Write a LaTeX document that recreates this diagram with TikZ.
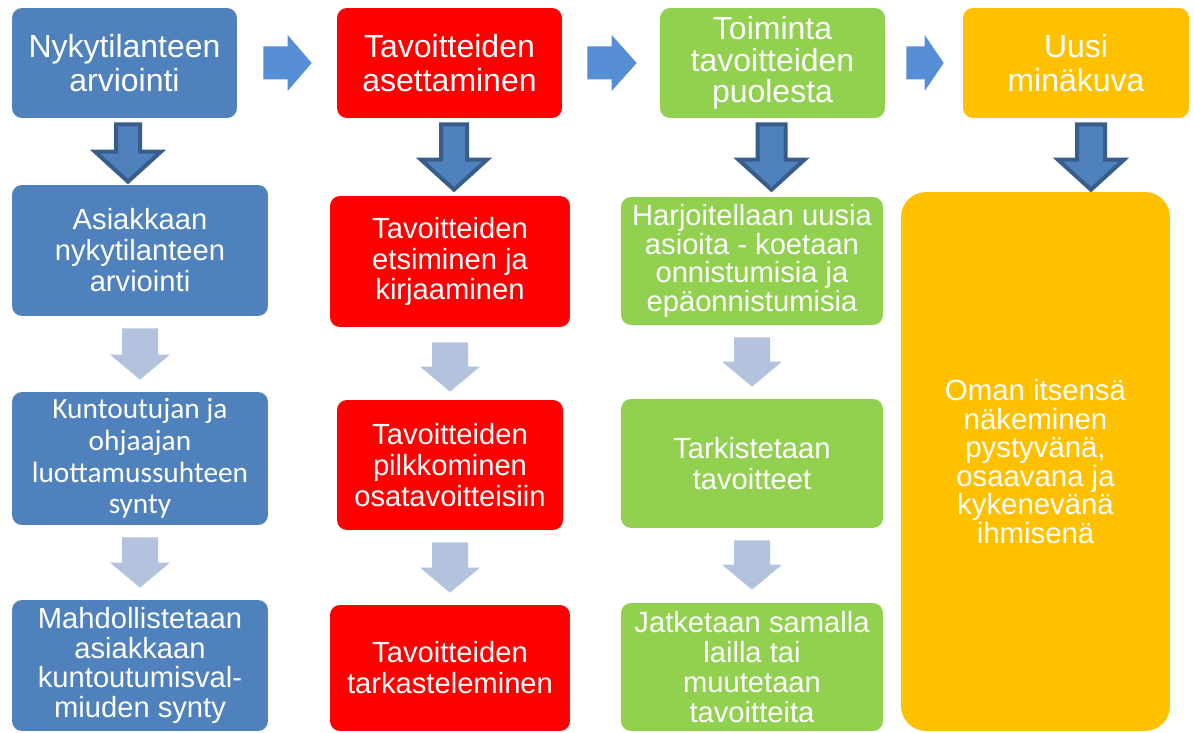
\documentclass[tikz,border=0pt]{standalone}
\usepackage{fontspec}
\setmainfont{Liberation Sans}
\newfontfamily\calibrifont{Carlito}
\usetikzlibrary{calc}
\definecolor{boxblue}{HTML}{4F81BD}
\definecolor{boxred}{HTML}{FF0000}
\definecolor{boxgreen}{HTML}{92D050}
\definecolor{boxorange}{HTML}{FFC000}
\definecolor{arrowblue}{HTML}{558ED5}
\definecolor{arrowedge}{HTML}{385D8A}
\definecolor{arrowpale}{HTML}{B3C3DE}

\newcommand{\fsTop}{\fontsize{18.2}{19}\selectfont}
\newcommand{\fsBox}{\fontsize{16.6}{17.6}\selectfont}
\newcommand{\fsSmall}{\fontsize{16.6}{17}\selectfont}
\newcommand{\fsCal}{\calibrifont\fontsize{16.7}{18.1}\selectfont}
\newcommand{\fsBig}{\fontsize{16.7}{16.2}\selectfont}

% down arrow: style, x, upper node, lower node, top gap, tip gap, shaft half, head half, head length
\newcommand{\nedpil}[9]{%
  \coordinate (pa) at ($(#3.south -| #2,0)+(0,#5)$);
  \coordinate (pb) at ($(#4.north -| #2,0)+(0,-#6)$);
  \path[#1] ($(pa)+(-#7,0)$) -- ($(pa)+(#7,0)$) -- ($(pb)+(#7,-#9)$) -- ($(pb)+(#8,-#9)$)
    -- (pb) -- ($(pb)+(-#8,-#9)$) -- ($(pb)+(-#7,-#9)$) -- cycle;}
% right arrow: style, left node, right node, left gap, right gap, head length
\newcommand{\hpil}[6]{%
  \coordinate (pa) at ($(#2.east)+(#4,0)$);
  \coordinate (pb) at ($(#3.west)+(-#5,0)$);
  \path[#1] ($(pa)+(0,-16.5)$) -- ($(pb)+(-#6,-16.5)$) -- ($(pb)+(-#6,-28)$) -- (pb)
    -- ($(pb)+(-#6,28)$) -- ($(pb)+(-#6,16.5)$) -- ($(pa)+(0,16.5)$) -- cycle;}

\tikzset{
  flowbox/.style={rounded corners=0.2cm, inner sep=0pt, align=center, text=white, font=\fsBox},
  topbox/.style={flowbox, minimum width=4.5cm, minimum height=2.2cm, font=\fsTop},
  fatarrow/.style={fill=boxblue, draw=arrowedge, line width=0.08cm},
  palearrow/.style={fill=arrowpale},
  sidearrow/.style={fill=arrowblue}
}

\begin{document}
\begin{tikzpicture}[x=0.02cm,y=-0.02cm]
    \useasboundingbox (0,0) rectangle (1194,733);
    %Nykytilanne
    \node[topbox, fill=boxblue] (nyky) at (124.5,63) {Nykytilanteen\\arviointi};
    \node[flowbox, fill=boxblue, minimum width=5.12cm, minimum height=2.62cm] (asiakas) at (140,250.5) {Asiakkaan\\nykytilanteen\\arviointi};
    \node[flowbox, fill=boxblue, minimum width=5.12cm, minimum height=2.66cm, font=\fsCal] (luottamus) at (140,458.5) {Kuntoutujan ja\\ohjaajan\\luottamussuhteen\\synty};
    \node[flowbox, fill=boxblue, minimum width=5.12cm, minimum height=2.62cm, font=\fsSmall] (valmius) at (140,665.5) {Mahdollistetaan\\asiakkaan\\kuntoutumisval-\\miuden synty};
    %Tavoitteet
    \node[topbox, fill=boxred] (asetus) at (449.5,63) {Tavoitteiden\\asettaminen};
    \node[flowbox, fill=boxred, minimum width=4.8cm, minimum height=2.62cm] (etsiminen) at (450,261.5) {Tavoitteiden\\etsiminen ja\\kirjaaminen};
    \node[flowbox, fill=boxred, minimum width=4.52cm, minimum height=2.6cm] (pilkkominen) at (450,465) {Tavoitteiden\\pilkkominen\\osatavoitteisiin};
    \node[flowbox, fill=boxred, minimum width=4.8cm, minimum height=2.52cm] (tarkastelu) at (450,668) {Tavoitteiden\\tarkasteleminen};
    %Toiminta
    \node[topbox, fill=boxgreen, font=\fontsize{18.2}{17.9}\selectfont] (toiminta) at (772.5,63) {Toiminta\\tavoitteiden\\puolesta};
    \node[flowbox, fill=boxgreen, minimum width=5.24cm, minimum height=2.56cm, font=\fontsize{16.6}{16.4}\selectfont] (harjoittelu) at (752,261) {Harjoitellaan uusia\\asioita - koetaan\\onnistumisia ja\\epäonnistumisia};
    \node[flowbox, fill=boxgreen, minimum width=5.24cm, minimum height=2.58cm] (tarkistus) at (752,463.5) {Tarkistetaan\\tavoitteet};
    \node[flowbox, fill=boxgreen, minimum width=5.24cm, minimum height=2.56cm, font=\fsSmall] (jatko) at (752,667) {Jatketaan samalla\\lailla tai\\muutetaan\\tavoitteita};
    %Minakuva
    \node[topbox, fill=boxorange, minimum width=4.52cm] (uusi) at (1076,63) {Uusi\\minäkuva};
    \node[flowbox, fill=boxorange, rounded corners=0.5cm, minimum width=5.38cm, minimum height=10.78cm, font=\fsBig] (itse) at (1035.5,461.5) {Oman itsensä\\näkeminen\\pystyvänä,\\osaavana ja\\kykenevänä\\ihmisenä};
    %Arrows
    \hpil{sidearrow}{nyky}{asetus}{26}{25}{24}
    \hpil{sidearrow}{asetus}{toiminta}{25}{23}{25}
    \hpil{sidearrow}{toiminta}{uusi}{21}{19}{19}
    \nedpil{fatarrow}{128}{nyky}{asiakas}{6}{3}{12}{33}{30}
    \nedpil{fatarrow}{454}{asetus}{etsiminen}{6}{6}{13}{33}{30}
    \nedpil{fatarrow}{771.5}{toiminta}{harjoittelu}{6}{7}{14}{33}{30}
    \nedpil{fatarrow}{1091}{uusi}{itse}{6}{2}{14}{33}{30}
    \nedpil{palearrow}{140}{asiakas}{luottamus}{12}{12}{18}{30}{25}
    \nedpil{palearrow}{140}{luottamus}{valmius}{12}{12}{18}{30}{25}
    \nedpil{palearrow}{450}{etsiminen}{pilkkominen}{15}{8}{18}{30}{25}
    \nedpil{palearrow}{450}{pilkkominen}{tarkastelu}{12}{12}{18}{30}{25}
    \nedpil{palearrow}{752}{harjoittelu}{tarkistus}{12}{12}{18}{30}{25}
    \nedpil{palearrow}{752}{tarkistus}{jatko}{12}{13}{18}{30}{25}
\end{tikzpicture}
\end{document}
